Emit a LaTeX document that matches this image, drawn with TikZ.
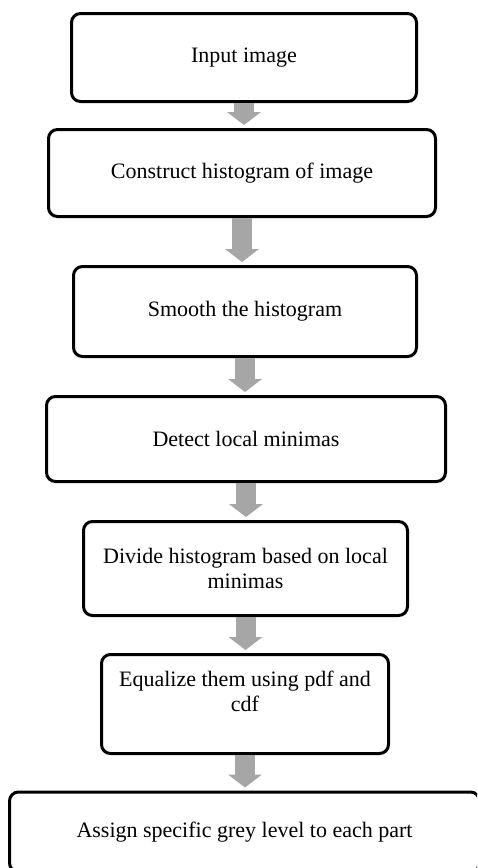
\documentclass[tikz,border=0pt]{standalone}
\usepackage{fontspec}
\setmainfont{Liberation Serif}
\usetikzlibrary{arrows.meta}
\definecolor{ArrowGrey}{RGB}{166,166,166}

\begin{document}
\begin{tikzpicture}[x=1pt,y=-1pt]
  \tikzset{
    box/.style={draw=black, line width=3pt, rounded corners=9pt, fill=white,
      align=center, inner sep=0pt, font=\fontsize{22}{25}\selectfont},
    arr/.style={draw=ArrowGrey, line width=20pt,
      -{Triangle[length=13pt,width=34pt,line width=0pt]}, shorten >=3pt}
  }
  \useasboundingbox (0,0) rectangle (477,868);
  \clip (0,0) rectangle (477,868);

  \node[box, minimum width=345pt, minimum height=88pt] (s1) at (244,57.5) {Input image};
  \node[box, minimum width=387pt, minimum height=87pt] (s2) at (242,173) {Construct histogram of image};
  \node[box, minimum width=343pt, minimum height=90pt] (s3) at (245,311.5) {Smooth the histogram};
  \node[box, minimum width=399pt, minimum height=85pt] (s4) at (246,439) {Detect local minimas};
  \node[box, minimum width=324pt, minimum height=94pt] (s5) at (245.5,568.5) {Divide histogram based on local\\ minimas};
  \node[box, minimum width=287pt, minimum height=99pt, text depth=26pt] (s6) at (245,704) {Equalize them using pdf and\\ cdf};
  \node[box, minimum width=470pt, minimum height=80pt] (s7) at (244.5,832) {Assign specific grey level to each part};

  % grey block arrows between the steps
  \draw[arr] (s1.south) -- (s1.south |- s2.north);
  \draw[arr] (s2.south) -- (s2.south |- s3.north);
  \draw[arr] (s3.south) -- (s3.south |- s4.north);
  \draw[arr] (s4.south) -- (s4.south |- s5.north);
  \draw[arr] (s5.south) -- (s5.south |- s6.north);
  \draw[arr] (s6.south) -- (s6.south |- s7.north);
\end{tikzpicture}
\end{document}
